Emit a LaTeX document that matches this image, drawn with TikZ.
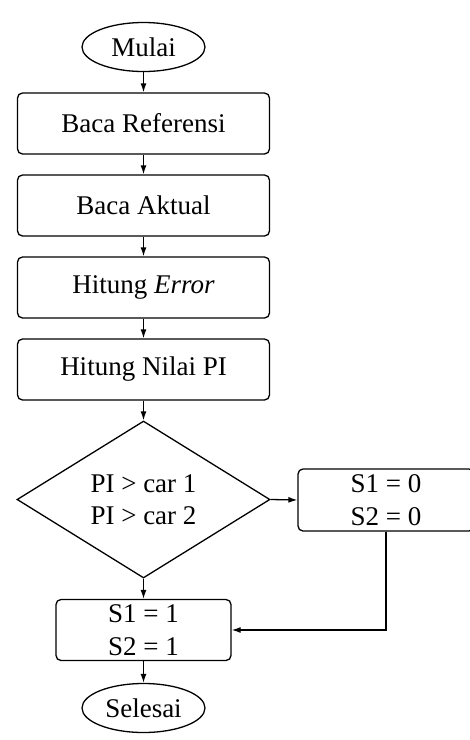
\documentclass[tikz,border=0pt]{standalone}
\usepackage{fontspec}
\setmainfont{Liberation Serif}
\usetikzlibrary{shapes.geometric,arrows.meta}
\begin{document}
\begin{tikzpicture}[x=1pt,y=-1pt,
  every node/.style={font=\fontsize{27}{32.5}\selectfont, inner sep=0pt, line width=1.3pt},
  term/.style={draw, ellipse, minimum width=123pt, minimum height=49pt},
  proc/.style={draw, rounded corners=5pt, minimum width=252pt, minimum height=61pt, align=center},
  sbox/.style={draw, rounded corners=5pt, minimum width=175pt, minimum height=61pt, align=center},
  dec/.style={draw, diamond, minimum width=253pt, minimum height=157pt, align=center},
  conn/.style={line width=1.3pt, -{Latex[length=9pt,width=6pt]}}]
\useasboundingbox (0,0) rectangle (470,740);
\node[term] (start) at (143.5,47) {Mulai};
\node[proc] (p1) at (143.5,123.5) {Baca Referensi};
\node[proc] (p2) at (143.5,205.5) {Baca Aktual};
\node[proc] (p3) at (143.5,287.5) {Hitung \textit{Error}};
\node[proc] (p4) at (143.5,369.5) {Hitung Nilai PI};
\node[dec] (d) at (143.5,499.5) {PI > car 1\\PI > car 2};
\node[sbox, minimum width=176pt, minimum height=62pt] (r) at (386,500) {S1 = 0\\S2 = 0};
\node[sbox] (s) at (143.5,630) {S1 = 1\\S2 = 1};
\node[term] (end) at (143.5,708) {Selesai};
\coordinate (k) at (386,630);
\draw[conn] (start) -- (p1);
\draw[conn] (p1) -- (p2);
\draw[conn] (p2) -- (p3);
\draw[conn] (p3) -- (p4);
\draw[conn] (p4) -- (d);
\draw[conn] (d.east) -- (r.west);
\draw[conn] (d.south) -- (s.north);
\draw[conn] (r.south) -- (k) -- (s.east);
\draw[conn] (s) -- (end);
\end{tikzpicture}
\end{document}
